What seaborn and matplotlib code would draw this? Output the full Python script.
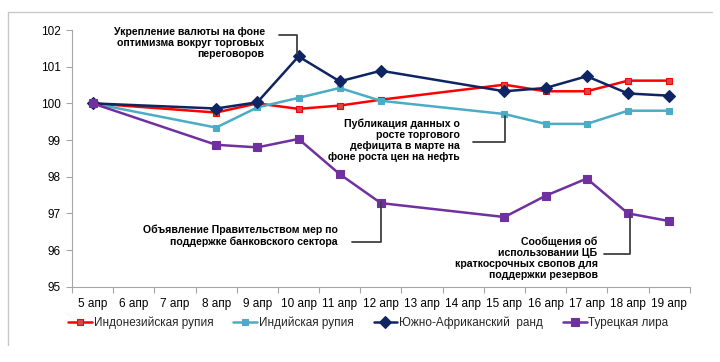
import numpy as np
import pandas as pd
import matplotlib
matplotlib.use("Agg")
import matplotlib.pyplot as plt
from matplotlib.lines import Line2D
import seaborn as sns

# Category axis (all calendar days) and trading days with data
days = ["5 апр", "6 апр", "7 апр", "8 апр", "9 апр", "10 апр", "11 апр", "12 апр",
        "13 апр", "14 апр", "15 апр", "16 апр", "17 апр", "18 апр", "19 апр"]
trade_days = ["5 апр", "8 апр", "9 апр", "10 апр", "11 апр", "12 апр",
              "15 апр", "16 апр", "17 апр", "18 апр", "19 апр"]

# Index values (5 апр = 100)
idr = [100.0, 99.75, 100.0, 99.85, 99.94, 100.1, 100.51, 100.33, 100.33, 100.62, 100.62]
inr = [100.0, 99.34, 99.89, 100.15, 100.42, 100.07, 99.71, 99.44, 99.44, 99.8, 99.8]
zar = [100.0, 99.86, 100.03, 101.28, 100.6, 100.89, 100.33, 100.42, 100.74, 100.27, 100.21]
tryl = [100.0, 98.87, 98.8, 99.03, 98.07, 97.28, 96.9, 97.48, 97.95, 97.0, 96.79]

names = ["Индонезийская рупия", "Индийская рупия", "Южно-Африканский  ранд", "Турецкая лира"]
colors = ["#FF0000", "#4BACC6", "#0F2463", "#7030A0"]
face = ["#D24A4A", "#4BACC6", "#0F2463", "#7030A0"]
markers = ["s", "s", "D", "s"]
msizes = [5, 5, 6, 5.5]

sns.set_style("white")
plt.rcParams["font.family"] = ["Liberation Sans", "DejaVu Sans"]

pos = {d: i for i, d in enumerate(days)}
x = [pos[d] for d in trade_days]

fig = plt.figure(figsize=(7.2, 3.62), dpi=100)
ax = fig.add_axes([0.1, 0.208, 0.858, 0.709])

for vals, name, c, fc, m, ms in zip([idr, inr, zar, tryl], names, colors, face, markers, msizes):
    df = pd.DataFrame({"x": x, "y": vals})
    sns.lineplot(data=df, x="x", y="y", ax=ax, color=c, linewidth=1.8, marker=m,
                 markersize=ms, markerfacecolor=fc, markeredgecolor=c, markeredgewidth=0.8,
                 label=name, legend=False)

ax.set_xlim(-0.5, len(days) - 0.5)
ax.set_ylim(95, 102)
ax.set_yticks(range(95, 103))
ax.set_xticks(range(len(days)))
ax.set_xticklabels(days)
ax.set_xticks(np.arange(-0.5, len(days)), minor=True)
ax.set_xlabel("")
ax.set_ylabel("")
ax.tick_params(axis="x", which="major", length=0, pad=8, labelsize=8.5, colors="#000000")
ax.tick_params(axis="x", which="minor", length=4, width=0.8, color="#A6A6A6", direction="out", bottom=True)
ax.tick_params(axis="y", length=4, width=0.8, color="#A6A6A6", direction="out", left=True,
               pad=4, labelsize=8.5, labelcolor="#000000")
for s in ["top", "right"]:
    ax.spines[s].set_visible(False)
for s in ["left", "bottom"]:
    ax.spines[s].set_color("#A6A6A6")
    ax.spines[s].set_linewidth(0.8)

# Callouts
txt = dict(fontsize=7.6, fontweight="bold", ha="right", va="center", linespacing=1.15, color="#000000")
conn = dict(color="#404040", linewidth=1.3, clip_on=False)

i10 = pos["10 апр"]
ax.text(i10 - 0.82, 101.65, "Укрепление валюты на фоне\nоптимизма вокруг торговых\nпереговоров", **txt)
ax.plot([i10 - 0.48, i10 - 0.04, i10 - 0.04], [101.87, 101.87, 101.36], **conn)

i15 = pos["15 апр"]
ax.text(i15 - 1.09, 98.99, "Публикация данных о\nросте торгового\nдефицита в марте на\nфоне роста цен на нефть", **txt)
ax.plot([i15 - 0.76, i15 + 0.02, i15 + 0.02], [98.94, 98.94, 99.66], **conn)

i12 = pos["12 апр"]
ax.text(i12 - 1.05, 96.4, "Объявление Правительством мер по\nподдержке банковского сектора", **txt)
ax.plot([i12 - 0.69, i12, i12], [96.23, 96.23, 97.3], **conn)

i18 = pos["18 апр"]
ax.text(i18 - 0.74, 95.78, "Сообщения об\nиспользовании ЦБ\nкраткосрочных свопов для\nподдержки резервов", **txt)
ax.plot([i18 - 0.58, i18 + 0.06, i18 + 0.06], [95.89, 95.89, 96.98], **conn)

# Legend along the bottom
handles, labels = ax.get_legend_handles_labels()
fig.legend(handles, labels, loc="center left", bbox_to_anchor=(0.095, 0.108), ncol=4,
           frameon=False, fontsize=8.5, handlelength=2.0, handletextpad=0.15,
           columnspacing=1.7, borderaxespad=0, borderpad=0)

# Thin frame remnants on top and left
fig.add_artist(Line2D([0.011, 0.989], [0.967, 0.967], color="#C8C8C8", linewidth=1))
fig.add_artist(Line2D([0.011, 0.011], [0.047, 0.967], color="#C8C8C8", linewidth=1))

fig.savefig("out.png", dpi=100, facecolor="white")
